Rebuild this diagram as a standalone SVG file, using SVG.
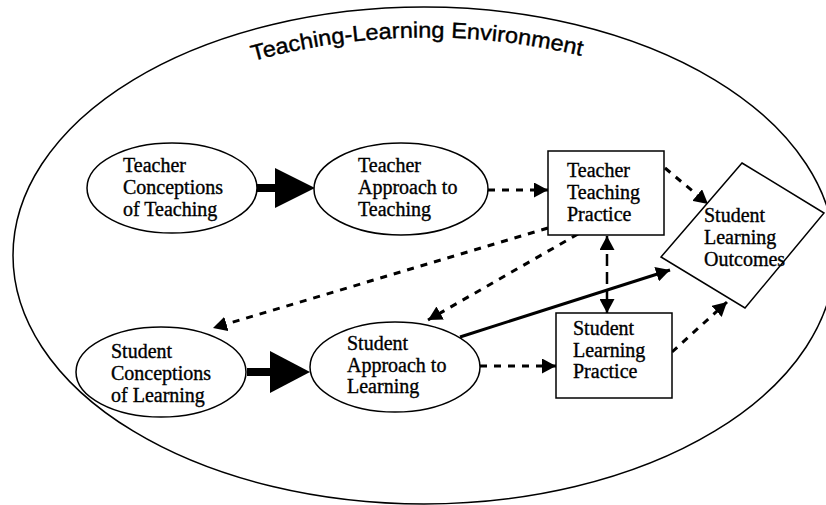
<svg xmlns="http://www.w3.org/2000/svg" width="826" height="505" viewBox="0 0 826 505">
<defs>
<style>
.shape{fill:#fff;stroke:#000;stroke-width:1.5}
.lbl{font-family:"Liberation Serif","Times New Roman",serif;font-size:20px;fill:#000;stroke:#000;stroke-width:0.35}
.dash{fill:none;stroke:#000;stroke-width:3;stroke-dasharray:7 7}
.ldash{fill:none;stroke:#000;stroke-width:2.5;stroke-dasharray:12 6}
.solid{fill:none;stroke:#000;stroke-width:3}
.title{font-family:"Liberation Sans",Arial,sans-serif;font-size:22px;fill:#000;stroke:#000;stroke-width:0.4}
</style>
<marker id="ah" markerUnits="userSpaceOnUse" markerWidth="15" markerHeight="15" refX="14" refY="7.5" orient="auto" viewBox="0 0 15 15">
<path d="M0,0 L14,7.5 L0,15 z" fill="#000"/>
</marker>
<marker id="ahs" markerUnits="userSpaceOnUse" markerWidth="15" markerHeight="15" refX="1" refY="7.5" orient="auto" viewBox="0 0 15 15">
<path d="M15,0 L1,7.5 L15,15 z" fill="#000"/>
</marker>
<path id="arc" d="M 253,61 Q 418,16 586,57"/>
</defs>
<g id="environment">
<ellipse cx="424" cy="255.5" rx="411" ry="248.5" fill="#fff" stroke="#000" stroke-width="1.5"/>
<text class="title"><textPath href="#arc" textLength="332" lengthAdjust="spacingAndGlyphs">Teaching-Learning Environment</textPath></text>
</g>
<g id="connectors">
<path class="dash" d="M488,190 L548,190" marker-end="url(#ah)"/>
<path class="dash" d="M665,168 L708,204" marker-end="url(#ah)"/>
<path class="dash" d="M548,228 L213,328" marker-end="url(#ah)"/>
<path class="dash" d="M578,234 L428,320" marker-end="url(#ah)"/>
<path class="ldash" d="M607,236 L607,313" marker-start="url(#ahs)" marker-end="url(#ah)"/>
<path class="solid" d="M460,337 L670,270" marker-end="url(#ah)"/>
<path class="dash" d="M480,366 L556,366" marker-end="url(#ah)"/>
<path class="dash" d="M672,352 L727,302" marker-end="url(#ah)"/>
<g id="thick1"><rect x="257" y="184" width="20" height="8" fill="#000"/><polygon points="275,168 315,188 275,208" fill="#000"/></g>
<g id="thick2"><rect x="247" y="368" width="25" height="8" fill="#000"/><polygon points="270,351 310,372 270,393" fill="#000"/></g>
</g>
<g id="teacher-conceptions">
<ellipse class="shape" cx="172" cy="188" rx="85" ry="45"/>
<text class="lbl"><tspan x="123" y="172">Teacher</tspan><tspan x="123" y="194">Conceptions</tspan><tspan x="123" y="216">of Teaching</tspan></text>
</g>
<g id="teacher-approach">
<ellipse class="shape" cx="401" cy="189" rx="87" ry="46"/>
<text class="lbl"><tspan x="358" y="172">Teacher</tspan><tspan x="358" y="194">Approach to</tspan><tspan x="358" y="216">Teaching</tspan></text>
</g>
<g id="teacher-practice">
<rect class="shape" x="548" y="151" width="116" height="84"/>
<text class="lbl"><tspan x="567" y="177">Teacher</tspan><tspan x="567" y="199">Teaching</tspan><tspan x="567" y="221">Practice</tspan></text>
</g>
<g id="learning-outcomes">
<polygon class="shape" points="742,163 824,213 745,308 661,257"/>
<text class="lbl"><tspan x="704" y="222">Student</tspan><tspan x="704" y="244">Learning</tspan><tspan x="704" y="266">Outcomes</tspan></text>
</g>
<g id="student-conceptions">
<ellipse class="shape" cx="161" cy="372" rx="85" ry="45"/>
<text class="lbl"><tspan x="111" y="358">Student</tspan><tspan x="111" y="380">Conceptions</tspan><tspan x="111" y="402">of Learning</tspan></text>
</g>
<g id="student-approach">
<ellipse class="shape" cx="395" cy="367" rx="85" ry="45"/>
<text class="lbl"><tspan x="347" y="350">Student</tspan><tspan x="347" y="372">Approach to</tspan><tspan x="347" y="393">Learning</tspan></text>
</g>
<g id="student-practice">
<rect class="shape" x="556" y="313" width="116" height="85"/>
<text class="lbl"><tspan x="573" y="335">Student</tspan><tspan x="573" y="357">Learning</tspan><tspan x="573" y="378">Practice</tspan></text>
</g>
</svg>
